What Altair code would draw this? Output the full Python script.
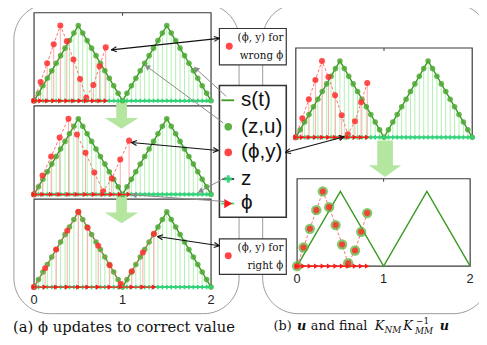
import math
import altair as alt
import pandas as pd

# ---------------- data ----------------
S_T = [0.0, 0.5, 1.0, 1.5, 2.0]                 # knots of s(t)
S_V = [0.0, 1.0, 0.0, 1.0, 0.0]
Z = [round(0.05 * i, 2) for i in range(41)]     # inducing inputs z
U = [0.0, 0.1, 0.2, 0.3, 0.4, 0.5, 0.6, 0.7, 0.8, 0.9, 1.0, 0.9, 0.8, 0.7, 0.6, 0.5, 0.4, 0.3, 0.2, 0.1,
     0.0, 0.1, 0.2, 0.3, 0.4, 0.5, 0.6, 0.7, 0.8, 0.9, 1.0, 0.9, 0.8, 0.7, 0.6, 0.5, 0.4, 0.3, 0.2, 0.1, 0.0]
PHI_WRONG = [0.0, 0.074, 0.148, 0.222, 0.297, 0.37, 0.445, 0.52, 0.59, 0.67, 0.74, 0.81]
PHI_MID = [0.0, 0.096, 0.193, 0.289, 0.389, 0.485, 0.581, 0.681, 0.781, 0.878, 0.974, 1.074]
PHI_RIGHT = [0.0, 0.125, 0.25, 0.375, 0.5, 0.605, 0.725, 0.855, 0.98, 1.105, 1.23, 1.355]
Y_OBS = [0.0, 0.25, 0.5, 0.75, 1.0, 0.79, 0.55, 0.29, 0.04, 0.21, 0.46, 0.71]
TICKS = [0, 1, 2]
LEGEND_LABELS = ["s(t)", "(z,u)", "(ϕ,y)", "z", "ϕ"]

# ---------------- layout ----------------
LAYOUT = pd.DataFrame({
    "panel": ["a1", "a2", "a3", "b1", "b2"],
    "x0": [34.5, 34.5, 34.5, 300.7, 302.0],
    "sx": [90.0, 90.0, 90.0, 89.7, 88.0],
    "base": [99.5, 194.7, 289.0, 136.7, 267.7],
    "sy": [76.5, 77.0, 76.5, 77.7, 76.0],
})
PANEL_PHI = {"a1": PHI_WRONG, "a2": PHI_MID, "a3": PHI_RIGHT, "b1": PHI_WRONG, "b2": PHI_WRONG}
SAMPLED = ["a1", "a2", "a3", "b1"]
ALL = ["a1", "a2", "a3", "b1", "b2"]

XS = alt.Scale(domain=[8, 487], range=[0, 479], nice=False, zero=False)
YS = alt.Scale(domain=[8, 345], range=[0, 337], nice=False, zero=False)


def ex(f):
    return alt.X(f, type="quantitative", scale=XS, axis=None)


def ey(f):
    return alt.Y(f, type="quantitative", scale=YS, axis=None)


def placed(df):
    return alt.Chart(df.merge(LAYOUT, on="panel")).transform_calculate(
        px="datum.x0 + datum.t * datum.sx",
        py="datum.base - datum.v * datum.sy",
        pb="datum.base",
    )


s_df = pd.DataFrame([{"panel": p, "t": t, "v": v} for p in ALL for t, v in zip(S_T, S_V)])
g_df = pd.DataFrame([{"panel": p, "t": t, "v": v} for p in SAMPLED for t, v in zip(Z, U)])
r_df = pd.DataFrame([{"panel": p, "t": t, "v": v} for p in ALL for t, v in zip(PANEL_PHI[p], Y_OBS)])
rb_df = pd.DataFrame([{"panel": p, "t": 0.0, "t1": max(PANEL_PHI[p]), "v": 0.0} for p in ALL])
tb_df = pd.DataFrame([{"panel": p, "t": 0.0, "t1": 2.0, "v": 0.0} for p in SAMPLED])
fr_df = pd.DataFrame([{"panel": p, "t": 0.0, "t1": 2.0, "v": 1.17} for p in ALL])
tick_df = pd.DataFrame([{"panel": p, "t": float(k), "v": 0.0, "label": str(k)} for p in ["a3", "b2"] for k in TICKS])
toptick_df = pd.DataFrame([{"panel": p, "t": 1.0, "v": 1.17} for p in ALL])

layers = []

# rounded outer frames
rounded = pd.DataFrame({"x1": [14, 267], "x2": [243, 497], "y1": [1, 1], "y2": [316, 316]})
layers.append(alt.Chart(rounded).mark_rect(cornerRadius=36, fill="white", fillOpacity=0,
                                           stroke="#9a9a9a", strokeWidth=1)
              .encode(x=ex("x1"), x2=alt.X2("x2"), y=ey("y1"), y2=alt.Y2("y2")))

# panel frames
layers.append(placed(fr_df).transform_calculate(px1="datum.x0 + datum.t1 * datum.sx")
              .mark_rect(fill="white", stroke="#3a3a3a", strokeWidth=1.2)
              .encode(x=ex("px"), x2=alt.X2("px1"), y=ey("py"), y2=alt.Y2("pb")))
layers.append(placed(toptick_df).transform_calculate(py2="datum.py + 3")
              .mark_rule(color="#3a3a3a", strokeWidth=1)
              .encode(x=ex("px"), y=ey("py"), y2=alt.Y2("py2")))

# big green "update" arrows
path_a = "M -0.32 -0.82 L 0.32 -0.82 L 0.32 0.18 L 1 0.18 L 0 0.82 L -1 0.18 L -0.32 0.18 Z"
path_b = "M -0.43 -1 L 0.43 -1 L 0.43 0.35 L 0.89 0.35 L 0 1 L -0.89 0.35 L -0.43 0.35 Z"
ga = pd.DataFrame({"x": [123.5, 123.5], "y": [114, 210]})
gb = pd.DataFrame({"x": [391.5], "y": [158.5]})
layers.append(alt.Chart(ga).mark_point(shape=path_a, filled=True, size=1156, color="#b4e6a0", opacity=1)
              .encode(x=ex("x"), y=ey("y")))
layers.append(alt.Chart(gb).mark_point(shape=path_b, filled=True, size=1369, color="#b4e6a0", opacity=1)
              .encode(x=ex("x"), y=ey("y")))

# stems
layers.append(placed(g_df).mark_rule(color="#b2f0b2", strokeWidth=1)
              .encode(x=ex("px"), y=ey("py"), y2=alt.Y2("pb")))
layers.append(placed(r_df[r_df.panel != "b2"]).mark_rule(color="#ffaaaa", strokeWidth=1)
              .encode(x=ex("px"), y=ey("py"), y2=alt.Y2("pb")))

# teal baseline of z
layers.append(placed(tb_df).transform_calculate(px1="datum.x0 + datum.t1 * datum.sx")
              .mark_rule(color="#3ccf70", strokeWidth=2)
              .encode(x=ex("px"), x2=alt.X2("px1"), y=ey("pb")))

# s(t)
layers.append(placed(s_df).mark_line(color="#3a9a22", strokeWidth=1.4)
              .encode(x=ex("px"), y=ey("py"), detail="panel:N", order=alt.Order("t:Q")))

# green samples (z,u)
layers.append(placed(g_df).mark_circle(color="#4ea832", opacity=0.85, size=32)
              .encode(x=ex("px"), y=ey("py")))

# red dashed line through (phi,y)
layers.append(placed(r_df).mark_line(color="#ff7070", strokeWidth=1, strokeDash=[3, 2])
              .encode(x=ex("px"), y=ey("py"), detail="panel:N", order=alt.Order("t:Q")))

# green halos in panel b2
layers.append(placed(r_df[r_df.panel == "b2"]).mark_circle(color="#5cb43c", opacity=0.75, size=110)
              .encode(x=ex("px"), y=ey("py")))

# red points
layers.append(placed(r_df).mark_circle(color="#ff2e2e", opacity=0.85, size=38)
              .encode(x=ex("px"), y=ey("py")))

# z markers on the baseline
layers.append(placed(g_df)
              .mark_point(shape="cross", filled=True, color="#2ed67a", size=18, opacity=1)
              .encode(x=ex("px"), y=ey("pb")))

# red phi baseline + triangles
layers.append(placed(rb_df).transform_calculate(px1="datum.x0 + datum.t1 * datum.sx")
              .mark_rule(color="#ff2a2a", strokeWidth=1.5)
              .encode(x=ex("px"), x2=alt.X2("px1"), y=ey("pb")))
layers.append(placed(r_df).mark_point(shape="triangle-right", filled=True, color="#ff1a1a",
                                      size=28, opacity=1)
              .encode(x=ex("px"), y=ey("pb")))

# tick labels
layers.append(placed(tick_df).transform_calculate(ly="datum.pb + 13")
              .mark_text(font="Liberation Sans", fontSize=13, color="#222", baseline="middle")
              .encode(x=ex("px"), y=ey("ly"), text="label:N"))

# --------------- boxes ---------------
boxes = pd.DataFrame({"x1": [223, 223, 223], "x2": [291, 291, 291],
                      "y1": [26, 84, 240], "y2": [63, 218, 276],
                      "w": [1.2, 1.6, 1.2]})
layers.append(alt.Chart(boxes).mark_rect(fill="white", stroke="#333")
              .encode(x=ex("x1"), x2=alt.X2("x2"), y=ey("y1"), y2=alt.Y2("y2"),
                      strokeWidth=alt.StrokeWidth("w:Q", scale=None)))

# legend entries
leg_y = [99, 126, 152, 179, 204]
leg_txt = pd.DataFrame({"x": [245] * 5, "y": leg_y, "label": LEGEND_LABELS})
layers.append(alt.Chart(leg_txt).mark_text(font="Liberation Sans", fontSize=21, align="left",
                                           baseline="middle", color="#111")
              .encode(x=ex("x"), y=ey("y"), text="label:N"))
leg_rules = pd.DataFrame({"x1": [225, 226, 225], "x2": [238, 238, 238], "y": [99, 179, 204],
                          "c": ["#3a9a22", "#333333", "#3ccf70"]})
layers.append(alt.Chart(leg_rules).mark_rule(strokeWidth=1.8)
              .encode(x=ex("x1"), x2=alt.X2("x2"), y=ey("y"), color=alt.Color("c:N", scale=None)))
leg_pts = pd.DataFrame({"x": [232, 232, 232], "y": [126, 152, 179],
                        "c": ["#4ea832", "#ff3333", "#2ed67a"],
                        "s": ["circle", "circle", "cross"]})
layers.append(alt.Chart(leg_pts).mark_point(filled=True, size=60, opacity=0.9)
              .encode(x=ex("x"), y=ey("y"), color=alt.Color("c:N", scale=None),
                      shape=alt.Shape("s:N", scale=None)))
layers.append(alt.Chart(pd.DataFrame({"x": [232], "y": [204]}))
              .mark_point(shape="triangle-right", filled=True, size=90, color="#ff1a1a", opacity=1)
              .encode(x=ex("x"), y=ey("y")))

# small annotation boxes
ann = pd.DataFrame({"x": [288, 288, 288, 288], "y": [36, 54, 249, 268],
                    "label": ["(ϕ, y) for", "wrong ϕ", "(ϕ, y) for", "right ϕ"]})
layers.append(alt.Chart(ann).mark_text(font="DejaVu Serif", fontSize=10.5, align="right",
                                       baseline="middle", color="#111")
              .encode(x=ex("x"), y=ey("y"), text="label:N"))
layers.append(alt.Chart(pd.DataFrame({"x": [233, 232], "y": [44, 257]}))
              .mark_circle(color="#ff3333", size=50, opacity=0.9)
              .encode(x=ex("x"), y=ey("y")))


# --------------- arrows ---------------
def wings(x1, y1, x2, y2, L=6.0, a=25.0):
    d = math.hypot(x2 - x1, y2 - y1)
    ux, uy = (x2 - x1) / d, (y2 - y1) / d
    out = []
    for s in (1, -1):
        c, sn = math.cos(math.radians(a * s)), math.sin(math.radians(a * s))
        rx, ry = ux * c - uy * sn, ux * sn + uy * c
        out.append((x2, y2, x2 - L * rx, y2 - L * ry))
    return out


BLACK = [(223, 36, 113, 47.7), (222, 150, 133.5, 142), (290, 152, 350, 136), (223, 247, 160, 237.5)]
GRAY = [(230, 95, 197, 65), (227, 122, 147, 63), (230, 177, 201, 193), (229, 202, 133, 195)]

segs = []
for x1, y1, x2, y2 in BLACK:
    segs.append((x1, y1, x2, y2))
    segs += wings(x1, y1, x2, y2)
    segs += wings(x2, y2, x1, y1)
bl = pd.DataFrame(segs, columns=["x1", "y1", "x2", "y2"])
gl = pd.DataFrame(GRAY, columns=["x1", "y1", "x2", "y2"])
heads = []
for x1, y1, x2, y2 in GRAY:
    d = math.hypot(x2 - x1, y2 - y1)
    ux, uy = (x2 - x1) / d, (y2 - y1) / d
    ang = math.degrees(math.atan2(ux, -uy)) % 360
    heads.append({"x": x2 - 3 * ux, "y": y2 - 3 * uy, "ang": ang})
hd = pd.DataFrame(heads)

layers.append(alt.Chart(gl).mark_rule(color="#8a8a8a", strokeWidth=1)
              .encode(x=ex("x1"), y=ey("y1"), x2=alt.X2("x2"), y2=alt.Y2("y2")))
layers.append(alt.Chart(hd).mark_point(shape="triangle-up", filled=True, size=40, color="#8a8a8a", opacity=1)
              .encode(x=ex("x"), y=ey("y"), angle=alt.Angle("ang:Q", scale=None)))
layers.append(alt.Chart(bl).mark_rule(color="#111", strokeWidth=1.1)
              .encode(x=ex("x1"), y=ey("y1"), x2=alt.X2("x2"), y2=alt.Y2("y2")))

# --------------- captions ---------------
cap_a = pd.DataFrame({"x": [126], "y": [335], "label": ["(a) ϕ updates to correct value"]})
layers.append(alt.Chart(cap_a).mark_text(font="DejaVu Serif", fontSize=15, align="center",
                                         baseline="alphabetic", color="#111")
              .encode(x=ex("x"), y=ey("y"), text="label:N"))
cap_b = pd.DataFrame({
    "x": [278, 302, 316, 381, 391, 410, 423, 422, 447],
    "y": [333, 333, 333, 333, 336, 333, 326, 337, 333],
    "label": ["(b)", "u", "and final", "K", "NM", "K", "−1", "MM", "u"],
    "fs": [13, 13, 13, 13, 9, 13, 9, 9, 13],
    "fw": ["normal", "bold", "normal", "normal", "normal", "normal", "normal", "normal", "bold"],
    "st": ["normal", "italic", "normal", "italic", "italic", "italic", "normal", "italic", "italic"],
})
for _, r in cap_b.iterrows():
    layers.append(alt.Chart(pd.DataFrame([r])).mark_text(font="DejaVu Serif", fontSize=float(r.fs),
                                                         fontWeight=r.fw, fontStyle=r.st,
                                                         align="left", baseline="alphabetic", color="#111")
                  .encode(x=ex("x"), y=ey("y"), text="label:N"))

chart = alt.layer(*layers).properties(
    width=479, height=337, autosize=alt.AutoSizeParams(type="none"), padding=0
).configure_view(stroke=None)

chart.save("out.html", embed_options={"renderer": "svg", "actions": False})
